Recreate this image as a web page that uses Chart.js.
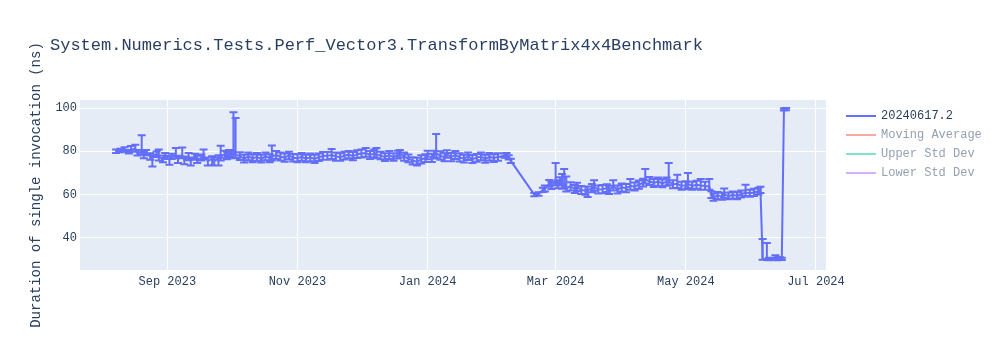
<!DOCTYPE html>
<html>
<head>
<meta charset="utf-8">
<script src="https://cdn.jsdelivr.net/npm/chart.js@4"></script>
<style>
  html, body { margin: 0; padding: 0; background: #fff; }
  #wrap { width: 1000px; height: 350px; }
</style>
</head>
<body>
<div id="wrap"><canvas id="benchChart" width="1000" height="350"></canvas></div>
<script>
// Chart data
const chartTitle = 'System.Numerics.Tests.Perf_Vector3.TransformByMatrix4x4Benchmark';
const yAxisTitle = 'Duration of single invocation (ns)';
const seriesNames = ['20240617.2', 'Moving Average', 'Upper Std Dev', 'Lower Std Dev'];

const runDates = [
  '2023-08-08','2023-08-10','2023-08-12','2023-08-14','2023-08-15','2023-08-17','2023-08-18','2023-08-20',
  '2023-08-21','2023-08-22','2023-08-24','2023-08-25','2023-08-27','2023-08-28','2023-08-30','2023-08-31',
  '2023-09-02','2023-09-03','2023-09-05','2023-09-06','2023-09-08','2023-09-09','2023-09-11','2023-09-12',
  '2023-09-14','2023-09-15','2023-09-17','2023-09-18','2023-09-20','2023-09-22','2023-09-23','2023-09-25',
  '2023-09-26','2023-09-28','2023-09-29','2023-09-30','2023-10-01','2023-10-02','2023-10-03','2023-10-05',
  '2023-10-07','2023-10-09','2023-10-11','2023-10-13','2023-10-15','2023-10-17','2023-10-19','2023-10-20',
  '2023-10-22','2023-10-24','2023-10-26','2023-10-28','2023-10-30','2023-11-01','2023-11-03','2023-11-05',
  '2023-11-07','2023-11-09','2023-11-11','2023-11-13','2023-11-15','2023-11-17','2023-11-19','2023-11-21',
  '2023-11-23','2023-11-25','2023-11-27','2023-11-29','2023-12-01','2023-12-03','2023-12-05','2023-12-07',
  '2023-12-08','2023-12-10','2023-12-12','2023-12-14','2023-12-16','2023-12-18','2023-12-19','2023-12-21',
  '2023-12-23','2023-12-25','2023-12-27','2023-12-29','2023-12-31','2024-01-01','2024-01-03','2024-01-04',
  '2024-01-05','2024-01-07','2024-01-09','2024-01-10','2024-01-12','2024-01-14','2024-01-16','2024-01-18',
  '2024-01-20','2024-01-22','2024-01-24','2024-01-26','2024-01-28','2024-01-30','2024-02-01','2024-02-03',
  '2024-02-06','2024-02-07','2024-02-08','2024-02-09',
  '2024-02-20','2024-02-22','2024-02-24','2024-02-25','2024-02-27','2024-02-28','2024-03-01','2024-03-02',
  '2024-03-03','2024-03-04','2024-03-05','2024-03-06','2024-03-08','2024-03-10','2024-03-11','2024-03-13',
  '2024-03-15','2024-03-16','2024-03-18','2024-03-19','2024-03-21','2024-03-23','2024-03-25','2024-03-26',
  '2024-03-28','2024-03-30','2024-04-01','2024-04-03','2024-04-05','2024-04-07','2024-04-09','2024-04-11',
  '2024-04-12','2024-04-14','2024-04-16','2024-04-18','2024-04-20','2024-04-22','2024-04-23','2024-04-25',
  '2024-04-27','2024-04-29','2024-05-01','2024-05-02','2024-05-04','2024-05-06','2024-05-08','2024-05-10',
  '2024-05-12','2024-05-13','2024-05-14','2024-05-16','2024-05-18','2024-05-19','2024-05-21','2024-05-23',
  '2024-05-25','2024-05-27','2024-05-29','2024-05-31','2024-06-02','2024-06-04','2024-06-05','2024-06-06',
  '2024-06-08','2024-06-09','2024-06-11','2024-06-12','2024-06-13','2024-06-14','2024-06-15','2024-06-16',
  '2024-06-17'
];

const durations = [
  80.0, 80.3, 80.7, 79.8, 80.9, 81.2, 79.3, 79.5,
  78.2, 79.4, 77.6, 77.0, 78.6, 77.3, 76.6, 77.8,
  76.2, 77.6, 78.3, 76.4, 78.0, 76.0, 77.2, 75.8,
  77.5, 76.2, 77.0, 78.0, 75.6, 76.4, 75.5, 76.8,
  77.6, 78.8, 78.0, 79.2, 78.5, 79.0, 78.6, 77.8,
  76.6, 77.6, 76.8, 77.4, 76.5, 77.7, 76.9, 77.6,
  78.3, 77.6, 77.1, 78.1, 77.0, 76.8, 77.5, 76.6,
  77.2, 76.5, 77.3, 77.8, 77.9, 78.3, 77.6, 77.3,
  78.0, 78.5, 77.8, 78.7, 79.0, 79.2, 78.3, 79.1,
  78.6, 78.0, 77.4, 78.2, 77.3, 78.5, 79.0, 77.6,
  76.7, 75.6, 75.2, 76.3, 76.9, 78.0, 77.0, 78.5,
  79.0, 78.0, 77.2, 78.7, 77.3, 78.3, 77.2, 76.6,
  77.7, 76.4, 77.1, 77.6, 76.5, 77.5, 76.9, 77.4,
  78.0, 78.0, 77.2, 75.6,
  60.0, 60.3, 62.2, 62.8, 65.2, 64.2, 66.0, 64.8,
  66.2, 64.5, 65.0, 63.2, 63.8, 62.6, 63.6, 62.2,
  61.8, 62.0, 63.0, 63.6, 62.4, 62.5, 63.0, 62.2,
  63.8, 62.3, 63.4, 63.0, 64.0, 63.8, 64.6, 65.5,
  67.0, 66.2, 65.4, 66.0, 65.2, 66.0, 66.2, 64.8,
  65.0, 64.0, 64.4, 65.0, 64.0, 64.6, 64.2, 64.0,
  63.8, 60.0, 58.8, 59.6, 59.2, 60.0, 59.4, 59.8,
  59.5, 60.2, 61.0, 60.6, 61.0, 61.6, 62.2, 30.4,
  30.3, 30.2, 30.4, 30.4, 30.2, 30.4, 30.3, 99.4,
  99.5
];

const errPlus = [
  0.8, 0.9, 1.2, 0.8, 1.6, 1.8, 1.3, 7.9,
  1.5, 1.2, 1.5, 1.4, 1.3, 3.5, 1.5, 1.4,
  1.6, 1.3, 3.2, 1.5, 3.8, 1.6, 2.0, 1.4,
  1.4, 1.8, 1.5, 2.9, 1.5, 1.3, 1.6, 1.4,
  5.0, 1.5, 1.8, 1.4, 1.5, 19.0, 16.8, 1.8,
  1.8, 1.9, 1.7, 1.8, 1.9, 1.7, 1.8, 5.1,
  1.9, 1.8, 1.9, 1.7, 1.8, 1.9, 1.7, 1.8,
  1.8, 1.9, 1.7, 1.9, 1.8, 2.8, 1.9, 1.8,
  1.8, 1.7, 1.9, 1.8, 1.8, 2.3, 1.9, 1.8,
  2.9, 1.8, 1.7, 1.9, 1.8, 1.8, 1.6, 1.9,
  1.8, 1.7, 1.8, 1.9, 1.8, 2.3, 1.9, 1.8,
  9.0, 2.0, 1.9, 1.8, 1.9, 1.8, 1.9, 1.8,
  1.8, 1.9, 1.7, 1.8, 1.9, 1.7, 1.8, 1.7,
  1.0, 1.2, 1.0, 1.0,
  0.8, 0.8, 1.0, 1.4, 1.6, 1.8, 8.6, 1.9,
  1.8, 5.0, 6.8, 5.2, 1.9, 1.8, 1.9, 1.8,
  1.9, 1.8, 1.9, 3.0, 1.8, 1.9, 1.8, 1.9,
  2.8, 1.9, 1.8, 1.9, 3.2, 1.8, 1.9, 1.8,
  4.8, 1.9, 1.8, 1.9, 1.8, 1.9, 8.4, 1.8,
  4.2, 1.9, 1.8, 5.0, 1.9, 1.8, 3.0, 1.9,
  3.4, 1.6, 1.7, 1.6, 1.7, 2.8, 1.6, 1.7,
  1.6, 1.7, 3.6, 1.6, 1.7, 1.6, 1.4, 9.1,
  7.4, 0.6, 0.5, 1.6, 0.6, 0.8, 0.6, 0.5,
  0.5
];

const errMinus = [
  0.8, 0.7, 0.9, 0.8, 1.0, 1.4, 1.2, 1.0,
  1.4, 1.2, 1.5, 4.0, 1.2, 1.5, 1.6, 1.4,
  2.4, 1.2, 1.5, 1.8, 1.2, 2.0, 1.3, 2.3,
  1.4, 1.6, 1.2, 1.5, 2.2, 2.8, 2.0, 3.4,
  1.8, 1.8, 1.7, 1.8, 1.7, 1.8, 1.7, 1.8,
  1.8, 1.7, 1.9, 1.8, 1.7, 1.8, 1.9, 1.8,
  1.7, 1.8, 1.9, 1.8, 1.7, 1.9, 1.8, 1.7,
  1.8, 1.9, 1.8, 1.7, 1.8, 1.8, 1.9, 1.7,
  1.8, 1.7, 1.9, 1.8, 1.8, 1.7, 1.9, 1.8,
  1.8, 1.7, 1.9, 1.8, 1.7, 1.8, 1.8, 1.9,
  1.8, 1.7, 1.8, 1.9, 1.8, 1.7, 1.9, 1.8,
  1.8, 1.9, 1.8, 1.7, 1.9, 1.8, 1.9, 1.8,
  1.7, 1.8, 1.9, 1.7, 1.8, 1.7, 1.8, 1.7,
  1.0, 1.0, 1.0, 1.0,
  0.8, 0.8, 1.0, 1.4, 1.6, 1.6, 1.8, 1.9,
  1.9, 1.8, 2.0, 1.8, 1.9, 1.8, 1.9, 1.9,
  1.8, 3.1, 1.9, 1.8, 1.9, 1.9, 1.8, 1.9,
  1.9, 1.8, 1.9, 1.9, 1.8, 1.9, 1.9, 1.8,
  1.9, 1.8, 1.9, 1.9, 1.8, 1.9, 1.9, 1.8,
  1.9, 1.8, 1.9, 1.9, 1.8, 1.9, 1.9, 1.8,
  1.6, 1.5, 1.6, 1.6, 1.6, 1.6, 1.5, 1.6,
  1.6, 1.5, 1.6, 1.6, 1.6, 1.5, 1.4, 0.5,
  0.5, 0.5, 0.5, 0.5, 0.5, 0.5, 0.5, 0.5,
  0.5
];

const xTickDates = ['2023-09-01', '2023-11-01', '2024-01-01', '2024-03-01', '2024-05-01', '2024-07-01'];
const xTickLabels = ['Sep 2023', 'Nov 2023', 'Jan 2024', 'Mar 2024', 'May 2024', 'Jul 2024'];
const yTickValues = [40, 60, 80, 100];
const yTickLabels = ['40', '60', '80', '100'];

// axis ranges (plotly autorange incl. padding)
const xRange = ['2023-07-22T02:00', '2024-07-05T17:00'];
const yRange = [25.2, 103.7];

function toTime(s) {
    const [d, t] = s.split('T');
    const [y, m, day] = d.split('-').map(Number);
    let h = 0, mi = 0;
    if (t) [h, mi] = t.split(':').map(Number);
    return Date.UTC(y, m - 1, day, h, mi);
}

const FONT = "'Liberation Mono', 'Courier New', monospace";
const TEXT = '#2a3f5f';
const BLUE = '#636efa';

const points = runDates.map((d, i) => ({ x: toTime(d), y: durations[i] }));
const xTicks = xTickDates.map(toTime);

// Plot background
const plotBg = {
    id: 'plotBg',
    beforeDraw(chart) {
        const { ctx, chartArea: a } = chart;
        ctx.save();
        ctx.fillStyle = '#e5ecf6';
        ctx.fillRect(a.left, a.top, a.right - a.left, a.bottom - a.top);
        ctx.restore();
    }
};

// Error bars, drawn through the chart's scales
const errorBars = {
    id: 'errorBars',
    beforeDatasetsDraw(chart) {
        const { ctx, chartArea: a, scales } = chart;
        const xs = scales.x, ys = scales.y;
        ctx.save();
        ctx.beginPath();
        ctx.rect(a.left, a.top, a.right - a.left, a.bottom - a.top);
        ctx.clip();
        ctx.strokeStyle = BLUE;
        ctx.lineWidth = 2;
        ctx.beginPath();
        points.forEach((p, i) => {
            const px = xs.getPixelForValue(p.x);
            const top = ys.getPixelForValue(p.y + errPlus[i]);
            const bot = ys.getPixelForValue(p.y - errMinus[i]);
            ctx.moveTo(px, top); ctx.lineTo(px, bot);
            ctx.moveTo(px - 4, top); ctx.lineTo(px + 4, top);
            ctx.moveTo(px - 4, bot); ctx.lineTo(px + 4, bot);
        });
        ctx.stroke();
        ctx.restore();
    }
};

// Title and legend (plotly style)
const overlays = {
    id: 'overlays',
    afterDraw(chart) {
        const ctx = chart.ctx;
        ctx.save();
        ctx.textBaseline = 'middle';
        ctx.textAlign = 'left';
        ctx.fillStyle = TEXT;
        ctx.font = '17px ' + FONT;
        ctx.fillText(chartTitle, 50, 45);

        const colors = [BLUE, '#f7aa9d', '#7fe5ca', '#d5b1fc'];
        const textColors = [TEXT, '#95a0b0', '#95a0b0', '#95a0b0'];
        ctx.font = '12px ' + FONT;
        seriesNames.forEach((name, i) => {
            const y = 116 + i * 19;
            ctx.strokeStyle = colors[i];
            ctx.lineWidth = 2;
            ctx.beginPath();
            ctx.moveTo(846, y); ctx.lineTo(876, y);
            ctx.stroke();
            ctx.fillStyle = textColors[i];
            ctx.fillText(name, 881, y);
        });
        ctx.restore();
    }
};

new Chart(document.getElementById('benchChart'), {
    type: 'line',
    data: {
        datasets: [{
            label: seriesNames[0],
            data: points,
            borderColor: BLUE,
            borderWidth: 2,
            pointRadius: 0,
            tension: 0,
            fill: false
        }]
    },
    options: {
        responsive: false,
        animation: false,
        devicePixelRatio: 1,
        layout: { padding: { top: 100, right: 174, bottom: 0, left: 0 } },
        plugins: {
            legend: { display: false },
            title: { display: false },
            tooltip: { enabled: false }
        },
        scales: {
            x: {
                type: 'linear',
                min: toTime(xRange[0]),
                max: toTime(xRange[1]),
                afterBuildTicks: (scale) => { scale.ticks = xTicks.map(v => ({ value: v })); },
                afterFit: (scale) => { scale.height = 80; },
                ticks: {
                    callback: (v) => xTickLabels[xTicks.indexOf(v)],
                    font: { family: FONT, size: 12 },
                    color: TEXT,
                    padding: 5,
                    maxRotation: 0,
                    autoSkip: false
                },
                grid: { color: '#ffffff', lineWidth: 1, drawTicks: false },
                border: { display: false }
            },
            y: {
                min: yRange[0],
                max: yRange[1],
                afterBuildTicks: (scale) => { scale.ticks = yTickValues.map(v => ({ value: v })); },
                afterFit: (scale) => { scale.width = 80; },
                ticks: {
                    callback: (v) => yTickLabels[yTickValues.indexOf(v)],
                    font: { family: FONT, size: 12 },
                    color: TEXT,
                    padding: 3
                },
                grid: { color: '#ffffff', lineWidth: 1, drawTicks: false },
                border: { display: false },
                title: {
                    display: true,
                    text: yAxisTitle,
                    font: { family: FONT, size: 14 },
                    color: TEXT,
                    padding: { top: 28, bottom: 0 }
                }
            }
        }
    },
    plugins: [plotBg, errorBars, overlays]
});
</script>
</body>
</html>
